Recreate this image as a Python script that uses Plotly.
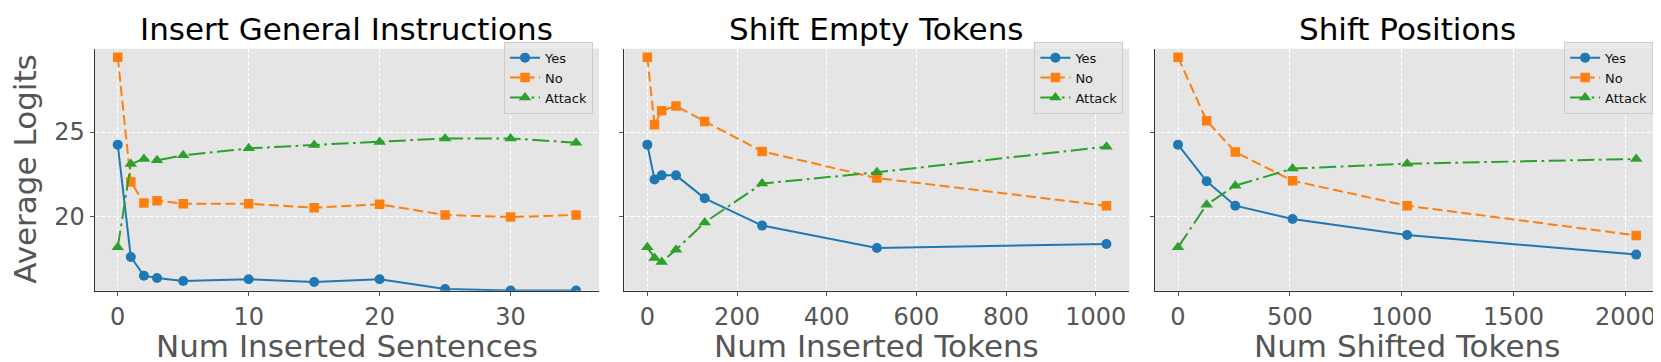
import plotly.graph_objects as go

# ---------------- data ----------------
series_names = ["Yes", "No", "Attack"]
titles = ["Insert General Instructions", "Shift Empty Tokens", "Shift Positions"]
xlabels = ["Num Inserted Sentences", "Num Inserted Tokens", "Num Shifted Tokens"]
ylabel = "Average Logits"

sent_x = [0, 1, 2, 3, 5, 10, 15, 20, 25, 30, 35]
sent_yes = [24.25, 17.59, 16.48, 16.34, 16.17, 16.27, 16.11, 16.27, 15.69, 15.60, 15.60]
sent_no = [29.43, 22.04, 20.79, 20.93, 20.75, 20.75, 20.51, 20.71, 20.08, 19.96, 20.08]
sent_attack = [18.16, 23.10, 23.40, 23.32, 23.62, 24.03, 24.23, 24.41, 24.62, 24.62, 24.37]

tok_x = [0, 16, 32, 64, 128, 256, 512, 1024]
tok_yes = [24.25, 22.19, 22.43, 22.43, 21.07, 19.45, 18.12, 18.36]
tok_no = [29.43, 25.43, 26.26, 26.54, 25.63, 23.85, 22.27, 20.63]
tok_attack = [18.16, 17.53, 17.29, 18.02, 19.64, 21.94, 22.61, 24.13]

shift_x = [0, 128, 256, 512, 1024, 2048]
shift_yes = [24.25, 22.08, 20.63, 19.84, 18.89, 17.73]
shift_no = [29.43, 25.67, 23.81, 22.11, 20.63, 18.87]
shift_attack = [18.16, 20.69, 21.82, 22.83, 23.12, 23.40]

x1_ticks = [0, 10, 20, 30]
x2_ticks = [0, 200, 400, 600, 800, 1000]
x3_ticks = [0, 500, 1000, 1500, 2000]
y_ticks = [20, 25]

# ---------------- layout geometry (pixels) ----------------
W, H = 1661, 362
FONT = "DejaVu Sans"
panels_px = [(86.8, 591.0), (616.4, 1121.4), (1147.1, 1651.1)]
top_px, bot_px = 40.7, 282.7
x_ranges = [[-1.75, 36.75], [-51.2, 1075.2], [-102.4, 2150.4]]
y_range = [15.59, 29.94]

colors = ["#1f77b4", "#ff7f0e", "#2ca02c"]
symbols = ["circle", "square", "triangle-up"]
msizes = [10, 9.5, 11]
dashes = ["solid", "10px,4.5px", "17px,4.5px,2.7px,4.5px"]

data = [
    (sent_x, [sent_yes, sent_no, sent_attack], x1_ticks),
    (tok_x, [tok_yes, tok_no, tok_attack], x2_ticks),
    (shift_x, [shift_yes, shift_no, shift_attack], x3_ticks),
]

fig = go.Figure()
legend_keys = ["legend", "legend2", "legend3"]

for p, (xs, ys_list, xticks) in enumerate(data):
    xa = "x" if p == 0 else f"x{p+1}"
    ya = "y" if p == 0 else f"y{p+1}"
    for k, ys in enumerate(ys_list):
        fig.add_trace(go.Scatter(
            x=xs, y=ys, mode="lines+markers", name=series_names[k],
            xaxis=xa, yaxis=ya, legend=legend_keys[p],
            line=dict(color=colors[k], width=2, dash=dashes[k]),
            marker=dict(color=colors[k], symbol=symbols[k], size=msizes[k]),
        ))

layout = dict(
    width=W, height=H,
    margin=dict(l=0, r=0, t=0, b=0),
    paper_bgcolor="white",
    plot_bgcolor="#E5E5E5",
    font=dict(family=FONT, color="#555555"),
    annotations=[],
)

ydom = [1 - bot_px / H, 1 - top_px / H]
for p in range(3):
    l, r = panels_px[p]
    xkey = "xaxis" if p == 0 else f"xaxis{p+1}"
    ykey = "yaxis" if p == 0 else f"yaxis{p+1}"
    xanchor = "y" if p == 0 else f"y{p+1}"
    yanchor = "x" if p == 0 else f"x{p+1}"
    layout[xkey] = dict(
        domain=[l / W, r / W], anchor=xanchor, range=x_ranges[p],
        tickvals=data[p][2], ticks="outside", ticklen=4, tickwidth=1, tickcolor="#555555",
        tickfont=dict(size=24, color="#555555", family=FONT),
        showline=True, linecolor="#333333", linewidth=1.2, mirror=False,
        showgrid=True, gridcolor="white", gridwidth=1, griddash="4px,2px",
        zeroline=False,
    )
    layout[ykey] = dict(
        domain=ydom, anchor=yanchor, range=y_range,
        tickvals=y_ticks, ticks="outside", ticklen=4, tickwidth=1, tickcolor="#555555",
        showticklabels=(p == 0),
        tickfont=dict(size=24, color="#555555", family=FONT),
        showline=True, linecolor="#333333", linewidth=1.2, mirror=False,
        showgrid=True, gridcolor="white", gridwidth=1, griddash="4px,2px",
        zeroline=False,
    )
    lg = dict(
        x=(r - 6) / W, y=1 - (top_px - 7) / H, xanchor="right", yanchor="top",
        xref="paper", yref="paper",
        bgcolor="rgba(229,229,229,0.8)", bordercolor="#CCCCCC", borderwidth=1,
        font=dict(size=13, color="#111111", family=FONT),
        itemwidth=30, tracegroupgap=0,
    )
    layout[legend_keys[p]] = lg
    # title
    layout["annotations"].append(dict(
        text=titles[p], x=(l + r) / 2 / W, y=1 - 1 / H, xref="paper", yref="paper",
        xanchor="center", yanchor="top", showarrow=False,
        font=dict(size=31, color="black", family=FONT),
    ))
    # x label
    layout["annotations"].append(dict(
        text=xlabels[p], x=(l + r) / 2 / W, y=1 - 338 / H, xref="paper", yref="paper",
        xanchor="center", yanchor="middle", showarrow=False,
        font=dict(size=31, color="#555555", family=FONT),
    ))

layout["annotations"].append(dict(
    text=ylabel, x=17 / W, y=1 - 161.7 / H, xref="paper", yref="paper",
    xanchor="center", yanchor="middle", textangle=-90, showarrow=False,
    font=dict(size=31, color="#555555", family=FONT),
))

fig.update_layout(**layout)
fig.write_html("out.html")
